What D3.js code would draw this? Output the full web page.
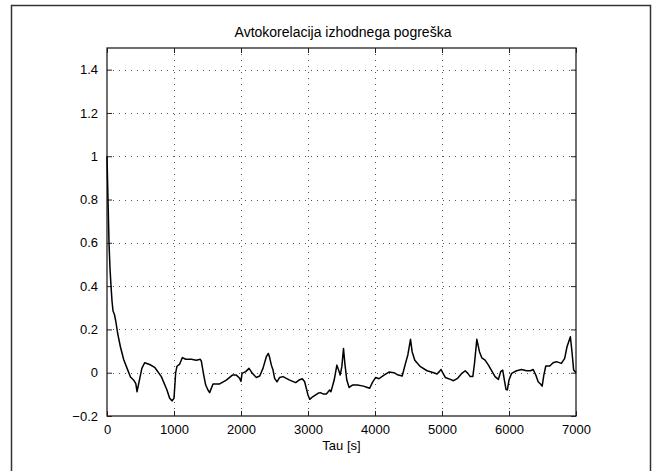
<!DOCTYPE html>
<html><head><meta charset="utf-8">
<script src="https://cdn.jsdelivr.net/npm/d3@7"></script>
<style>body{margin:0;background:#fff}svg{display:block}text{font-family:"Liberation Sans",Arial,sans-serif;fill:#000}</style>
</head><body><svg id="c" width="656" height="471"></svg>
<script>
const titleText = "Avtokorelacija izhodnega pogreška";
const xLabel = "Tau [s]";
const xTicks = [0,1000,2000,3000,4000,5000,6000,7000];
const yTicks = [-0.2,0,0.2,0.4,0.6,0.8,1,1.2,1.4];
const tau = [0,15,30,45,60,75,90,110,130,160,200,250,300,350,400,430,448,480,520,562,637,711,811,895,935,970,1000,1025,1045,1085,1125,1175,1259,1333,1393,1408,1443,1473,1507,1532,1582,1682,1781,1871,1930,1980,2000,2015,2070,2120,2170,2229,2279,2328,2378,2408,2428,2453,2478,2502,2537,2577,2627,2726,2816,2866,2915,2950,3000,3025,3075,3149,3184,3224,3274,3323,3342,3391,3431,3465,3480,3505,3530,3550,3579,3614,3663,3738,3827,3886,3921,3960,4010,4059,4134,4208,4282,4347,4406,4455,4490,4530,4554,4594,4678,4777,4876,4926,4960,4985,5010,5049,5124,5173,5233,5297,5346,5386,5421,5460,5485,5520,5559,5594,5643,5693,5742,5792,5841,5876,5906,5931,5955,5975,6000,6039,6113,6188,6262,6321,6361,6400,6435,6470,6495,6520,6549,6609,6658,6708,6782,6831,6866,6916,6940,6965,7000];
const acf = [1.0,0.8,0.6,0.48,0.4,0.33,0.285,0.27,0.24,0.18,0.12,0.06,0.02,-0.02,-0.035,-0.05,-0.088,-0.04,0.02,0.046,0.038,0.025,-0.018,-0.08,-0.118,-0.13,-0.118,0.0,0.03,0.04,0.07,0.062,0.062,0.058,0.062,0.054,-0.01,-0.057,-0.08,-0.092,-0.052,-0.052,-0.034,-0.011,-0.011,-0.026,-0.04,-0.003,0.005,0.02,-0.003,-0.022,-0.015,0.02,0.074,0.089,0.07,0.035,0.012,-0.026,-0.042,-0.022,-0.018,-0.034,-0.046,-0.034,-0.028,-0.042,-0.103,-0.123,-0.11,-0.095,-0.092,-0.098,-0.098,-0.08,-0.088,-0.034,0.035,0.005,-0.011,0.028,0.112,0.043,-0.034,-0.068,-0.057,-0.057,-0.062,-0.068,-0.072,-0.046,-0.022,-0.028,-0.011,0.003,0.0,-0.011,-0.015,0.043,0.082,0.154,0.097,0.058,0.028,0.009,0.0,-0.006,0.005,0.015,0.0,-0.022,-0.031,-0.037,-0.026,-0.003,0.009,-0.003,-0.018,-0.018,0.043,0.154,0.097,0.069,0.058,0.035,0.009,-0.018,-0.031,0.005,0.012,-0.034,-0.077,-0.08,-0.034,-0.003,0.009,0.015,0.009,0.009,0.015,-0.011,-0.042,-0.052,-0.062,-0.011,0.031,0.031,0.046,0.051,0.043,0.066,0.12,0.166,0.097,0.012,0.0];

const svg = d3.select("#c");
const L=107,R=576,T=48,B=416;
const x = d3.scaleLinear().domain([0,7000]).range([L,R]);
const y = d3.scaleLinear().domain([-0.2,1.5]).range([B,T]);

// figure frame
svg.append("path").attr("d","M11.5,475 V5.5 H650.5 V475").attr("fill","none").attr("stroke","#333").attr("stroke-width",1.5);

// grid
const g = svg.append("g");
g.selectAll(".gx").data(xTicks.slice(1,-1)).join("line")
 .attr("x1",d=>Math.round(x(d))+0.5).attr("x2",d=>Math.round(x(d))+0.5).attr("y1",T).attr("y2",B)
 .attr("stroke","#555").attr("stroke-dasharray","1,5").attr("stroke-width",1);
g.selectAll(".gy").data(yTicks.slice(1)).join("line")
 .attr("y1",d=>Math.round(y(d))+0.5).attr("y2",d=>Math.round(y(d))+0.5).attr("x1",L).attr("x2",R)
 .attr("stroke","#555").attr("stroke-dasharray","1,5").attr("stroke-width",1);

// axes
const ax = svg.append("g").attr("transform",`translate(0,${B})`)
 .call(d3.axisBottom(x).tickValues(xTicks).tickSize(-5).tickPadding(9).tickFormat(d3.format("d")));
const ay = svg.append("g").attr("transform",`translate(${L},0)`)
 .call(d3.axisLeft(y).tickValues(yTicks).tickSize(-5).tickPadding(9).tickFormat(d=>d3.format("")(+d.toFixed(1))));
const axT = svg.append("g").attr("transform",`translate(0,${T})`).call(d3.axisTop(x).tickValues(xTicks).tickSize(-5).tickFormat(""));
const ayR = svg.append("g").attr("transform",`translate(${R},0)`).call(d3.axisRight(y).tickValues(yTicks).tickSize(-5).tickFormat(""));
[ax,ay,axT,ayR].forEach(a=>{a.select(".domain").remove();a.selectAll("line").attr("stroke","#222");a.selectAll("text").attr("font-size",13).attr("font-family","Liberation Sans, Arial, sans-serif").attr("fill","#000");});
svg.append("rect").attr("x",L).attr("y",T).attr("width",R-L).attr("height",B-T).attr("fill","none").attr("stroke","#222").attr("stroke-width",1.3);

// line
svg.append("path").datum(tau.map((t,i)=>[t,acf[i]]))
 .attr("d",d3.line().x(d=>x(d[0])).y(d=>y(d[1])))
 .attr("fill","none").attr("stroke","#000").attr("stroke-width",1.5).attr("stroke-linejoin","round");

svg.append("text").attr("x",343).attr("y",37).attr("text-anchor","middle").attr("font-size",14).text(titleText);
svg.append("text").attr("x",341.5).attr("y",450).attr("text-anchor","middle").attr("font-size",13).text(xLabel);
</script></body></html>
